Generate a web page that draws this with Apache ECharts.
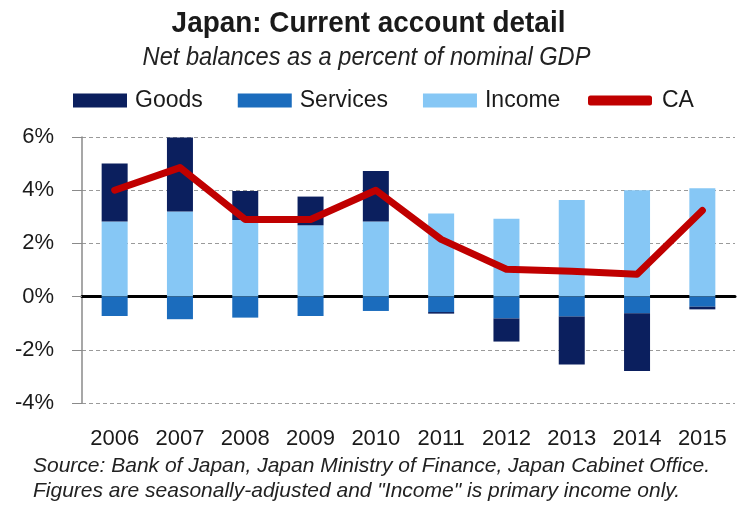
<!DOCTYPE html>
<html>
<head>
<meta charset="utf-8">
<script src="https://cdn.jsdelivr.net/npm/echarts@6/dist/echarts.min.js"></script>
<style>
html,body{margin:0;padding:0;background:#fff;}
#chart{width:739px;height:515px;}
</style>
</head>
<body>
<div id="chart"></div>
<script>
var years = ['2006','2007','2008','2009','2010','2011','2012','2013','2014','2015'];
var goods    = [2.18, 2.78, 1.09, 1.08, 1.90, -0.06, -0.87, -1.80, -2.17, -0.10];
var services = [-0.73, -0.85, -0.79, -0.73, -0.54, -0.58, -0.82, -0.75, -0.63, -0.38];
var income   = [2.82, 3.20, 2.88, 2.68, 2.82, 3.12, 2.93, 3.63, 4.00, 4.07];
var ca       = [4.00, 4.85, 2.90, 2.90, 4.00, 2.15, 1.03, 0.95, 0.84, 3.24];
var yTicks = {min: -4, max: 6, interval: 2};

var titleText = 'Japan: Current account detail';
var subtitleText = 'Net balances as a percent of nominal GDP';
var sourceLines = ['Source: Bank of Japan, Japan Ministry of Finance, Japan Cabinet Office.',
                   'Figures are seasonally-adjusted and "Income" is primary income only.'];

var FONT = '"Liberation Sans", Arial, sans-serif';
var C_GOODS = '#0b1f5e', C_SERV = '#1b6cbd', C_INC = '#86c7f5', C_CA = '#c00000';
var TXT = '#1a1a1a';

var chart = echarts.init(document.getElementById('chart'), null, {renderer: 'canvas'});
chart.setOption({
  backgroundColor: '#ffffff',
  animation: false,
  graphic: [
    {type: 'text', x: 368.5, y: 24, scaleX: 0.93, originX: 0, z: 10,
     style: {text: titleText, fontFamily: FONT, fontSize: 30, fontWeight: 'bold',
             fill: TXT, align: 'center', verticalAlign: 'middle'}},
    {type: 'text', x: 366.5, y: 58.5, scaleX: 0.945, z: 10,
     style: {text: subtitleText, fontFamily: FONT, fontSize: 25, fontStyle: 'italic',
             fill: '#222', align: 'center', verticalAlign: 'middle'}},
    {type: 'text', x: 33, y: 466, z: 10,
     style: {text: sourceLines[0], fontFamily: FONT, fontSize: 21, fontStyle: 'italic',
             fill: '#222', align: 'left', verticalAlign: 'middle'}},
    {type: 'text', x: 33, y: 491, z: 10,
     style: {text: sourceLines[1], fontFamily: FONT, fontSize: 21, fontStyle: 'italic',
             fill: '#222', align: 'left', verticalAlign: 'middle'}}
  ],
  legend: [
    {left: 73, top: 89, padding: 0,
     itemWidth: 54, itemHeight: 14, itemGap: 35,
     textStyle: {fontFamily: FONT, fontSize: 23, color: TXT, padding: [0, 0, 0, 3]},
     data: [
       {name: 'Goods', icon: 'rect'},
       {name: 'Services', icon: 'rect'},
       {name: 'Income', icon: 'rect'}
     ]},
    {left: 588, top: 89, padding: 0,
     itemWidth: 64, itemHeight: 10,
     textStyle: {fontFamily: FONT, fontSize: 23, color: TXT, padding: [0, 0, 0, 5]},
     data: [{name: 'CA', icon: 'roundRect'}]}
  ],
  grid: {left: 82, right: 4, top: 137, bottom: 112, containLabel: false},
  xAxis: [
    {type: 'category', data: years, position: 'bottom',
     axisLine: {show: false, onZero: false},
     axisTick: {show: false},
     axisLabel: {interval: 0, fontFamily: FONT, fontSize: 22, color: TXT, margin: 25}},
    {type: 'category', data: years, position: 'bottom',
     axisLine: {show: true, onZero: true, lineStyle: {color: '#000', width: 3}},
     axisTick: {show: false}, axisLabel: {show: false}}
  ],
  yAxis: {
    type: 'value', min: yTicks.min, max: yTicks.max, interval: yTicks.interval,
    axisLine: {show: true, lineStyle: {color: '#8a8a8a', width: 1.5}},
    axisTick: {show: true, length: 10, lineStyle: {color: '#8a8a8a'}},
    axisLabel: {formatter: '{value}%', fontFamily: FONT, fontSize: 22, color: TXT, margin: 28},
    splitLine: {show: true, lineStyle: {color: '#9a9a9a', type: [4, 3], width: 1}}
  },
  series: [
    {name: 'Income', type: 'bar', stack: 'ca', barWidth: 26, data: income,
     itemStyle: {color: C_INC}},
    {name: 'Services', type: 'bar', stack: 'ca', barWidth: 26, data: services,
     itemStyle: {color: C_SERV}},
    {name: 'Goods', type: 'bar', stack: 'ca', barWidth: 26, data: goods,
     itemStyle: {color: C_GOODS}},
    {name: 'CA', type: 'line', data: ca, symbol: 'none', z: 5,
     lineStyle: {color: C_CA, width: 7, join: 'round', cap: 'round'},
     itemStyle: {color: C_CA}}
  ]
});
</script>
</body>
</html>
